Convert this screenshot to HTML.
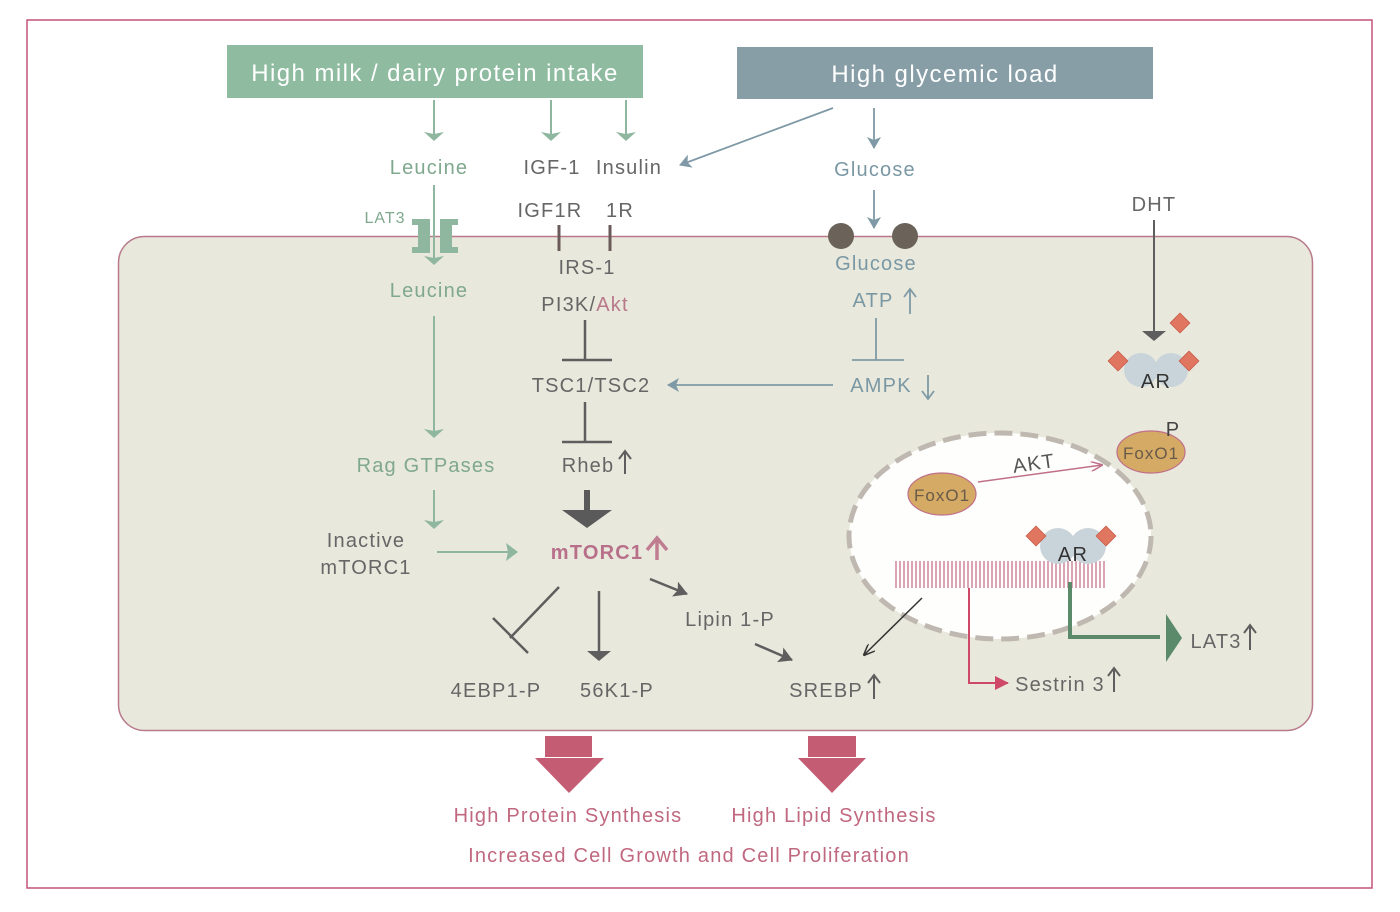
<!DOCTYPE html>
<html><head><meta charset="utf-8"><style>html,body{margin:0;padding:0;background:#fff}svg{display:block}text{font-family:"Liberation Sans",sans-serif;letter-spacing:0.06em}</style></head><body>
<svg width="1400" height="912" viewBox="0 0 1400 912" xmlns="http://www.w3.org/2000/svg">
<defs>
<marker id="agb" markerWidth="9" markerHeight="20" refX="8" refY="10" orient="auto" markerUnits="userSpaceOnUse"><path d="M0,0 L9,10 L0,20 L2,10 Z" fill="#8fb7a0"/></marker>
<marker id="ab" markerWidth="12" markerHeight="14" refX="11" refY="7" orient="auto" markerUnits="userSpaceOnUse"><path d="M0,0 L12,7 L0,14 L3,7 Z" fill="#7f9aa6"/></marker>
<marker id="agr" markerWidth="12" markerHeight="18" refX="11" refY="9" orient="auto" markerUnits="userSpaceOnUse"><path d="M0,0 L12,9 L0,18 L2,9 Z" fill="#8fb7a0"/></marker>
<marker id="ad" markerWidth="10" markerHeight="24" refX="9" refY="12" orient="auto" markerUnits="userSpaceOnUse"><path d="M0,0 L10,12 L0,24 Z" fill="#5e5e5e"/></marker>
<marker id="ad2" markerWidth="14" markerHeight="16" refX="13" refY="8" orient="auto" markerUnits="userSpaceOnUse"><path d="M0,0 L14,8 L0,16 L3,8 Z" fill="#5e5e5e"/></marker>
<marker id="ak" markerWidth="12" markerHeight="10" refX="11" refY="5" orient="auto" markerUnits="userSpaceOnUse"><path d="M0,0 L12,5 L0,10" fill="none" stroke="#333" stroke-width="1.5"/></marker>
<marker id="ap" markerWidth="12" markerHeight="10" refX="11" refY="5" orient="auto" markerUnits="userSpaceOnUse"><path d="M0,0 L12,5 L0,10" fill="none" stroke="#c0708a" stroke-width="1.5"/></marker>
<marker id="apr" markerWidth="14" markerHeight="14" refX="13" refY="7" orient="auto" markerUnits="userSpaceOnUse"><path d="M0,0 L14,7 L0,14 Z" fill="#d04868"/></marker>
</defs>
<rect x="27" y="20" width="1345" height="868" fill="#fff" stroke="#c2527a" stroke-width="1.5"/>
<rect x="118.5" y="236.5" width="1194" height="494" rx="26" fill="#e9e8dc" stroke="#b87a8a" stroke-width="1.5"/>
<rect x="227" y="45" width="416" height="53" fill="#8fbca0"/>
<text x="435" y="81" font-size="24" fill="#fff" text-anchor="middle">High milk / dairy protein intake</text>
<rect x="737" y="47" width="416" height="52" fill="#879ea7"/>
<text x="945" y="82" font-size="24" fill="#fff" text-anchor="middle">High glycemic load</text>
<g stroke="#8fb7a0" stroke-width="2" fill="none">
<line x1="434" y1="100" x2="434" y2="140" marker-end="url(#agb)"/>
<line x1="551" y1="100" x2="551" y2="140" marker-end="url(#agb)"/>
<line x1="626" y1="100" x2="626" y2="140" marker-end="url(#agb)"/>
<line x1="434" y1="316" x2="434" y2="437" marker-end="url(#agb)"/>
<line x1="434" y1="490" x2="434" y2="528" marker-end="url(#agb)"/>
<line x1="437" y1="552" x2="517" y2="552" marker-end="url(#agr)"/>
</g>
<g font-size="20" fill="#7fa88e" text-anchor="middle">
<text x="429" y="174">Leucine</text><text x="429" y="297">Leucine</text><text x="426" y="472">Rag GTPases</text>
<text x="385" y="223" font-size="16">LAT3</text>
</g>
<g fill="#8fb7a0">
<path d="M412,219 h18 v34 h-18 v-6 h6 v-22 h-6 z"/>
<path d="M458,219 h-18 v34 h18 v-6 h-6 v-22 h6 z"/>
</g>
<line x1="434" y1="185" x2="434" y2="264" stroke="#8fb7a0" stroke-width="2" marker-end="url(#agb)"/>
<g font-size="20" fill="#666" text-anchor="middle">
<text x="552" y="174">IGF-1</text><text x="629" y="174">Insulin</text>
<text x="550" y="217">IGF1R</text><text x="620" y="217">1R</text>
<text x="587" y="274">IRS-1</text>
<text x="366" y="547">Inactive</text><text x="366" y="574">mTORC1</text>
<text x="591" y="392">TSC1/TSC2</text>
<text x="1154" y="211">DHT</text>
<text x="496" y="697">4EBP1-P</text><text x="617" y="697">56K1-P</text>
<text x="730" y="626">Lipin 1-P</text>
<text x="826" y="697">SREBP</text>
<text x="1060" y="691">Sestrin 3</text>
<text x="1216" y="648">LAT3</text>
</g>
<text x="585" y="311" font-size="20" fill="#666" text-anchor="middle">PI3K/<tspan fill="#b8788a">Akt</tspan></text>
<text x="588" y="472" font-size="20" fill="#666" text-anchor="middle">Rheb</text>
<g stroke="#6b5a5a" stroke-width="3"><line x1="559" y1="225" x2="559" y2="251"/><line x1="610" y1="225" x2="610" y2="251"/></g>
<g stroke="#5e5e5e" stroke-width="2.5" fill="none">
<line x1="585" y1="320" x2="585" y2="360"/><line x1="562" y1="360" x2="612" y2="360"/>
<line x1="585" y1="402" x2="585" y2="442"/><line x1="562" y1="442" x2="612" y2="442"/>
<line x1="559" y1="587" x2="510" y2="638"/><line x1="493" y1="618" x2="528" y2="653"/>
<line x1="599" y1="591" x2="599" y2="660" marker-end="url(#ad)"/>
<line x1="650" y1="579" x2="687" y2="594" marker-end="url(#ad2)"/>
<line x1="755" y1="644" x2="792" y2="660" marker-end="url(#ad2)"/>
</g>
<path d="M584,490 h6 v20 h22 l-25,18 l-25,-18 h22 z" fill="#5a5a5a"/>
<g stroke="#5e5e5e" stroke-width="2" fill="none">
<path d="M625,474 V452 M619,459 L625,451 L631,459"/>
<path d="M874,699 V676 M868,683 L874,675 L880,683"/>
<path d="M1114,692 V669 M1108,676 L1114,668 L1120,676"/>
<path d="M1250,650 V626 M1244,633 L1250,625 L1256,633"/>
</g>
<text x="597" y="559" font-size="20" font-weight="bold" fill="#b8708a" text-anchor="middle">mTORC1</text>
<path d="M657,560 V540 M647,550 L657,538 L667,550" stroke="#c07d92" stroke-width="3.5" fill="none"/>
<g stroke="#7f9aa6" stroke-width="1.8" fill="none">
<line x1="833" y1="108" x2="680" y2="165" marker-end="url(#ab)"/>
<line x1="874" y1="108" x2="874" y2="148" marker-end="url(#ab)"/>
<line x1="874" y1="190" x2="874" y2="228" marker-end="url(#ab)"/>
<line x1="833" y1="385" x2="668" y2="385" marker-end="url(#ab)"/>
<line x1="876" y1="318" x2="876" y2="360"/><line x1="852" y1="360" x2="904" y2="360"/>
<path d="M910,314 V290 M904,297 L910,289 L916,297"/>
<path d="M928,375 V398 M922,391 L928,399 L934,391"/>
</g>
<g font-size="20" fill="#7a98a4" text-anchor="middle">
<text x="875" y="176">Glucose</text><text x="876" y="270">Glucose</text>
<text x="873" y="307">ATP</text><text x="881" y="392">AMPK</text>
</g>
<circle cx="841" cy="236" r="13" fill="#6b635a"/><circle cx="905" cy="236" r="13" fill="#6b635a"/>
<line x1="1154" y1="220" x2="1154" y2="340" stroke="#5e5e5e" stroke-width="2" marker-end="url(#ad)"/>
<circle cx="1141" cy="370" r="17" fill="#c9d4da"/><circle cx="1171" cy="370" r="17" fill="#c9d4da"/>
<g fill="#e07560" stroke="#c85a48" stroke-width="0.8">
<rect x="1173" y="316" width="14" height="14" transform="rotate(45 1180 323)"/>
<rect x="1111" y="354" width="14" height="14" transform="rotate(45 1118 361)"/>
<rect x="1182" y="354" width="14" height="14" transform="rotate(45 1189 361)"/>
</g>
<text x="1156" y="388" font-size="20" fill="#333" text-anchor="middle">AR</text>
<ellipse cx="1000" cy="536" rx="151" ry="103" fill="#fefefd" stroke="#bfb8b0" stroke-width="5" stroke-dasharray="18 8"/>
<ellipse cx="942" cy="494" rx="34" ry="21" fill="#d4aa65" stroke="#c0708a" stroke-width="1.2"/>
<text x="942" y="501" font-size="17" fill="#6a5a4a" text-anchor="middle">FoxO1</text>
<ellipse cx="1151" cy="452" rx="34" ry="21" fill="#d4aa65" stroke="#c0708a" stroke-width="1.2"/>
<text x="1151" y="459" font-size="17" fill="#6a5a4a" text-anchor="middle">FoxO1</text>
<text x="1173" y="436" font-size="20" fill="#444" text-anchor="middle">P</text>
<line x1="978" y1="482" x2="1102" y2="465" stroke="#c0708a" stroke-width="1.5" marker-end="url(#ap)"/>
<text x="1034" y="470" font-size="20" fill="#555" text-anchor="middle" transform="rotate(-8 1034 464)">AKT</text>
<g stroke="#c46a88" stroke-width="1.2">
<path d="M896,561V588M900,561V588M904,561V588M908,561V588M912,561V588M916,561V588M920,561V588M924,561V588M928,561V588M932,561V588M936,561V588M940,561V588M944,561V588M948,561V588M952,561V588M956,561V588M960,561V588M964,561V588M968,561V588M972,561V588M976,561V588M980,561V588M984,561V588M988,561V588M992,561V588M996,561V588M1000,561V588M1004,561V588M1008,561V588M1012,561V588M1016,561V588M1020,561V588M1024,561V588M1028,561V588M1032,561V588M1036,561V588M1040,561V588M1044,561V588M1048,561V588M1052,561V588M1056,561V588M1060,561V588M1064,561V588M1068,561V588M1072,561V588M1076,561V588M1080,561V588M1084,561V588M1088,561V588M1092,561V588M1096,561V588M1100,561V588M1104,561V588"/>
</g>
<circle cx="1058" cy="546" r="18" fill="#c9d4da"/><circle cx="1088" cy="546" r="18" fill="#c9d4da"/>
<g fill="#e07560" stroke="#c85a48" stroke-width="0.8">
<rect x="1029" y="529" width="14" height="14" transform="rotate(45 1036 536)"/>
<rect x="1099" y="529" width="14" height="14" transform="rotate(45 1106 536)"/>
</g>
<text x="1073" y="561" font-size="20" fill="#333" text-anchor="middle">AR</text>
<line x1="922" y1="598" x2="864" y2="655" stroke="#333" stroke-width="1.5" marker-end="url(#ak)"/>
<path d="M969,588 V683 H1008" stroke="#d04868" stroke-width="2" fill="none" marker-end="url(#apr)"/>
<path d="M1070,582 V637 H1160" stroke="#5a8a6a" stroke-width="4" fill="none"/>
<path d="M1166,614 L1182,638 L1166,662 Z" fill="#5a8a6a"/>
<g fill="#c45c74">
<rect x="545" y="736" width="47" height="21"/><path d="M535,758 H604 L569,793 Z"/>
<rect x="808" y="736" width="48" height="21"/><path d="M798,758 H866 L832,793 Z"/>
</g>
<g font-size="20" fill="#c0687f" text-anchor="middle">
<text x="568" y="822">High Protein Synthesis</text>
<text x="834" y="822">High Lipid Synthesis</text>
<text x="689" y="862">Increased Cell Growth and Cell Proliferation</text>
</g>
</svg>
</body></html>
